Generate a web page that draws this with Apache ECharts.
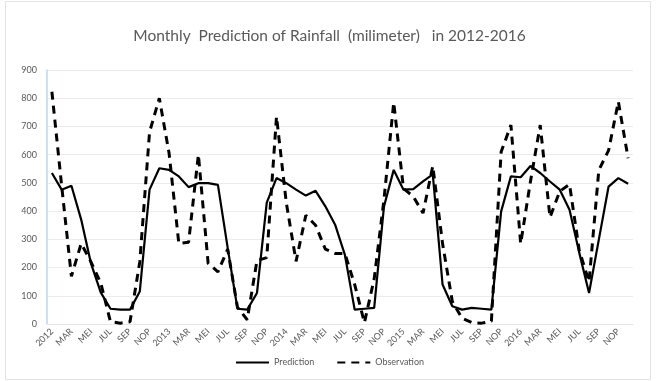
<!DOCTYPE html>
<html>
<head>
<meta charset="utf-8">
<script src="https://cdn.jsdelivr.net/npm/echarts@6/dist/echarts.min.js"></script>
<style>
  html, body { margin: 0; padding: 0; background: #ffffff; }
  #chart { width: 659px; height: 381px; }
</style>
</head>
<body>
<div id="chart"></div>
<script>
// Month labels (Indonesian); January shows the year instead
const years = ['2012', '2013', '2014', '2015', '2016'];
const months = ['JAN', 'FEB', 'MAR', 'APR', 'MEI', 'JUN', 'JUL', 'AGU', 'SEP', 'OKT', 'NOP', 'DES'];
const categories = [];
years.forEach(function (y) {
  months.forEach(function (m, k) { categories.push(k === 0 ? y : m); });
});

// Monthly rainfall, mm
const prediction = [
  535, 476, 490, 370, 215, 112, 54, 51, 51, 115, 476, 552,
  546, 523, 485, 499, 499, 493, 270, 54, 51, 110, 430, 517,
  499, 476, 455, 472, 417, 352, 245, 51, 54, 57, 416, 546,
  476, 478, 505, 530, 140, 63, 51, 57, 54, 51, 399, 523,
  520, 560, 535, 505, 476, 405, 252, 110, 299, 487, 517, 497
];
const observation = [
  823, 490, 169, 285, 220, 146, 8, 3, 8, 220, 680, 800,
  605, 285, 290, 600, 215, 185, 265, 60, 15, 225, 235, 735,
  430, 222, 385, 350, 265, 250, 250, 140, 5, 160, 440, 785,
  480, 452, 393, 560, 285, 80, 20, 5, 3, 10, 610, 705,
  285, 505, 705, 378, 470, 495, 260, 150, 545, 615, 788, 587
];

const yTicks = { min: 0, max: 900, interval: 100 };
const textGrey = '#595959';
const font = 'Lato, "Open Sans", sans-serif';

const chart = echarts.init(document.getElementById('chart'), null, { renderer: 'canvas' });
chart.setOption({
  backgroundColor: '#ffffff',
  animation: false,
  title: {
    text: 'Monthly  Prediction of Rainfall  (milimeter)   in 2012-2016',
    left: 'center',
    top: 23,
    textStyle: { fontFamily: font, fontSize: 15.5, fontWeight: 'normal', color: textGrey }
  },
  graphic: [{
    type: 'rect',
    shape: { x: 5.5, y: 1.5, width: 645, height: 378 },
    style: { fill: 'none', stroke: '#e3e3e3', lineWidth: 1 },
    silent: true
  }],
  legend: {
    bottom: 9,
    left: 'center',
    itemWidth: 33,
    itemHeight: 10,
    itemGap: 22,
    itemStyle: { opacity: 0 },
    textStyle: { fontFamily: font, fontSize: 9, color: textGrey },
    data: ['Prediction', 'Observation']
  },
  grid: { left: 47, right: 26, top: 70, bottom: 57 },
  xAxis: {
    type: 'category',
    data: categories,
    boundaryGap: true,
    axisLine: { lineStyle: { color: '#e6e6e6', width: 1 } },
    axisTick: { show: false },
    axisLabel: {
      interval: 1,
      rotate: 45,
      margin: 6,
      fontFamily: font,
      fontSize: 9,
      color: textGrey
    }
  },
  yAxis: {
    type: 'value',
    min: yTicks.min,
    max: yTicks.max,
    interval: yTicks.interval,
    axisLine: { show: true, lineStyle: { color: '#bdd7ee', width: 1.5 } },
    axisTick: { show: false },
    axisLabel: { margin: 10, fontFamily: font, fontSize: 9, color: textGrey },
    splitLine: { lineStyle: { color: '#ececec', width: 1 } }
  },
  series: [
    {
      name: 'Prediction',
      type: 'line',
      data: prediction,
      symbol: 'none',
      lineStyle: { color: '#000000', width: 2.2 },
      itemStyle: { color: '#000000' }
    },
    {
      name: 'Observation',
      type: 'line',
      data: observation,
      symbol: 'none',
      lineStyle: { color: '#000000', width: 3, type: [8, 6] },
      itemStyle: { color: '#000000' }
    }
  ]
});
</script>
</body>
</html>
